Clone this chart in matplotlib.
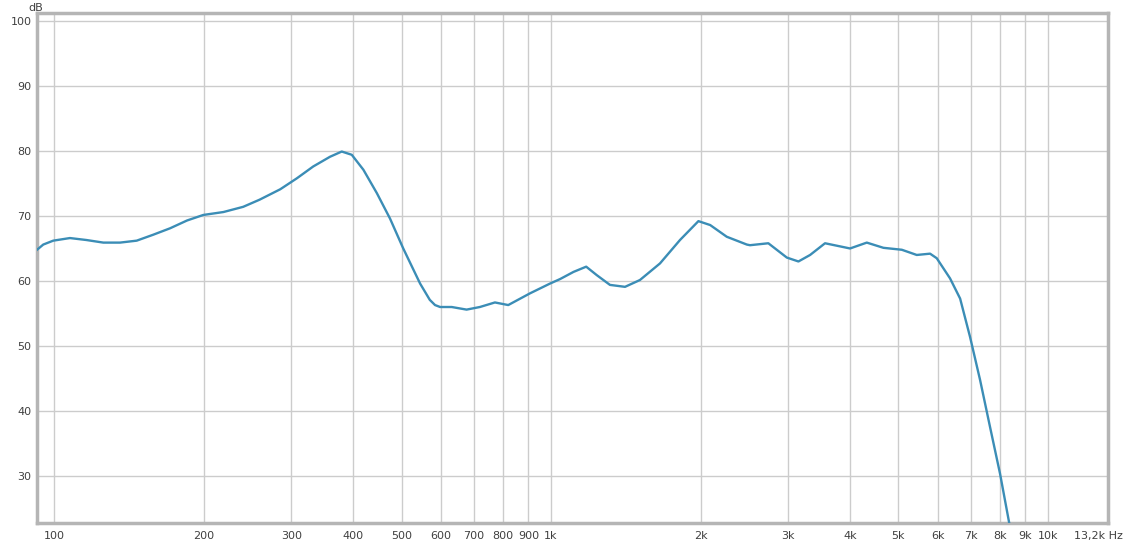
import matplotlib.pyplot as plt
from matplotlib.ticker import FixedLocator, NullLocator

# Frequency response (Hz, dB)
freq = [92.3, 95, 99.5, 107.5, 116, 125.5, 135.6, 146.5, 158, 171, 185,
        199.5, 219, 240, 259, 285, 308, 332, 359, 379, 397, 419, 446, 474,
        504, 545, 570, 584, 598, 631, 676, 719, 771, 820, 907, 995, 1043,
        1110, 1177, 1236, 1314, 1409, 1510, 1657, 1818, 1980, 2091, 2258,
        2478, 2515, 2738, 2983, 3148, 3323, 3561, 3999, 4322, 4668, 5084,
        5448, 5795, 5977, 6357, 6661, 6975, 7306, 7650, 8014, 8368]
level = [64.8, 65.6, 66.2, 66.6, 66.3, 65.9, 65.9, 66.2, 67.1, 68.1, 69.3,
         70.15, 70.6, 71.4, 72.5, 74.1, 75.8, 77.6, 79.1, 79.9, 79.4, 77.1, 73.5, 69.6,
         65.0, 59.6, 57.1, 56.3, 56.0, 56.0, 55.6, 56.0, 56.7, 56.3, 58.1, 59.6, 60.3,
         61.4, 62.2, 60.9, 59.4, 59.1, 60.15, 62.7, 66.3, 69.2, 68.6, 66.8,
         65.6, 65.5, 65.8, 63.6, 63.0, 64.0, 65.8, 65.0, 65.9, 65.1, 64.8,
         64.0, 64.2, 63.5, 60.4, 57.3, 51.4, 44.8, 37.6, 30.4, 22.7]

x_ticks = [100, 200, 300, 400, 500, 600, 700, 800, 900, 1000,
           2000, 3000, 4000, 5000, 6000, 7000, 8000, 9000, 10000]
x_labels = ['100', '200', '300', '400', '500', '600', '700', '800', '900', '1k',
            '2k', '3k', '4k', '5k', '6k', '7k', '8k', '9k', '10k']
y_ticks = [30, 40, 50, 60, 70, 80, 90, 100]

fig = plt.figure(figsize=(11.26, 5.45), dpi=100)
ax = fig.add_axes([0.0329, 0.0404, 0.9511, 0.9358])

ax.plot(freq, level, color='#3b8db6', linewidth=1.7, solid_joinstyle='round', zorder=3)

ax.set_xscale('log')
ax.set_xlim(92.3, 13220)
ax.set_ylim(22.8, 101.2)

ax.xaxis.set_major_locator(FixedLocator(x_ticks))
ax.xaxis.set_minor_locator(NullLocator())
ax.set_xticklabels(x_labels)
ax.set_yticks(y_ticks)

ax.grid(True, color='#cccccc', linewidth=1.0)
ax.tick_params(length=0, labelsize=8, labelcolor='#404040', pad=6)
ax.tick_params(axis='y', pad=4)

for s in ax.spines.values():
    s.set_color('#b5b5b5')
    s.set_linewidth(2.5)

# end-of-axis label and unit, as in the reference
fig.text(1074 / 1126, 0.0404 - 8.5 / 545, '13,2k Hz', fontsize=8, color='#404040',
         ha='left', va='top')
fig.text(0.025, 0.995, 'dB', fontsize=8, color='#404040', ha='left', va='top')

plt.savefig('out.png', dpi=100)
